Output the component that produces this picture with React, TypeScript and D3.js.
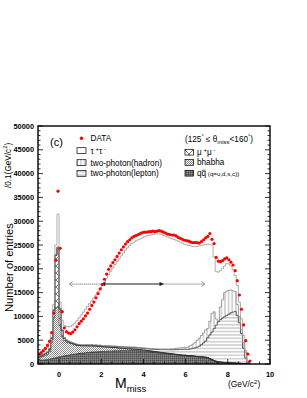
import React from 'react';
import * as d3 from 'd3';

// bins of 0.1 GeV/c^2 starting at -1.0 (one row = 1 GeV/c^2)
const binLow = -1.0;
const binWidth = 0.1;

const dataCounts = [
  2100, 2400, 2800, 3300, 3900, 4800, 6600, 10700, 21800, 36300,
  24300, 11000, 7600, 6800, 6500, 6400, 6700, 7200, 7800, 8500,
  9000, 9500, 10100, 10700, 11500, 12300, 13000, 13900, 14800, 15800,
  16700, 17800, 18900, 19900, 20600, 21300, 21900, 22600, 23300, 24000,
  24600, 25200, 25700, 26100, 26500, 26800, 27000, 27200, 27400, 27600,
  27700, 27700, 27800, 27800, 27900, 27800, 27900, 28000, 27900, 27700,
  27500, 27300, 27200, 27100, 27100, 26900, 26600, 26400, 26200, 26000,
  25900, 25800, 25600, 25500, 25500, 25500, 25400, 25700, 26100, 26500,
  26800, 27400, 26200, 25300, 22400, 21600, 21500, 21700, 22100, 22300,
  21900, 21400, 20800, 19600, 17500, 14500, 11500, 8200, 4900, 2100,
  630,
];

const qqbar = [
  700, 750, 800, 850, 900, 1000, 1100, 1200, 1300, 1400,
  1500, 1600, 1700, 1800, 1850, 1900, 2000, 2050, 2100, 2200,
  2250, 2300, 2350, 2400, 2450, 2500, 2500, 2550, 2550, 2600,
  2600, 2650, 2650, 2700, 2700, 2700, 2750, 2750, 2750, 2800,
  2800, 2800, 2800, 2800, 2800, 2800, 2800, 2750, 2750, 2700,
  2700, 2650, 2600, 2550, 2500, 2450, 2400, 2350, 2300, 2250,
  2200, 2150, 2100, 2050, 2000, 1950, 1900, 1850, 1800, 1800,
  1750, 1700, 1700, 1650, 1600, 1550, 1500, 1500, 1450, 1400,
  1300, 1100, 900, 700, 550, 450, 400, 350, 300, 300,
  250, 250, 200, 200, 150, 150, 100, 100, 50, 0,
  0,
];

const bhabha = [
  600, 700, 800, 900, 1100, 1600, 3500, 8500, 10500, 10500,
  6500, 4200, 3200, 2800, 2600, 2400, 2200, 2000, 1800, 1650,
  1550, 1500, 1450, 1400, 1350, 1300, 1250, 1200, 1150, 1100,
  1000, 950, 900, 850, 800, 750, 700, 650, 600, 550,
  500, 450, 400, 380, 350, 330, 300, 280, 260, 240,
  220, 200, 190, 180, 170, 160, 150, 140, 130, 120,
  110, 100, 100, 90, 90, 80, 80, 70, 70, 60,
  60, 50, 50, 40, 40, 30, 30, 20, 20, 20,
  20, 20, 20, 10, 10, 10, 10, 10, 10, 10,
  0, 0, 0, 0, 0, 0, 0, 0, 0, 0,
  0,
];

const mumu = [
  200, 250, 300, 350, 400, 500, 800, 1500, 11000, 12500,
  3500, 1200, 500, 300, 200, 150, 100, 100, 80, 80,
  60, 60, 50, 50, 40, 40, 30, 30, 20, 20,
  0, 0, 0, 0, 0, 0, 0, 0, 0, 0,
  0, 0, 0, 0, 0, 0, 0, 0, 0, 0,
  0, 0, 0, 0, 0, 0, 0, 0, 0, 0,
  0, 0, 0, 0, 0, 0, 0, 0, 0, 0,
  0, 0, 0, 0, 0, 0, 0, 0, 0, 0,
  0, 0, 0, 0, 0, 0, 0, 0, 0, 0,
  0, 0, 0, 0, 0, 0, 0, 0, 0, 0,
  0,
];

const ggLepton = [
  100, 100, 100, 100, 100, 100, 100, 100, 100, 100,
  100, 100, 100, 100, 100, 100, 100, 100, 100, 100,
  100, 100, 120, 120, 120, 140, 140, 160, 160, 180,
  180, 200, 200, 220, 220, 240, 240, 260, 260, 280,
  280, 290, 300, 310, 320, 330, 340, 340, 350, 350,
  350, 370, 390, 410, 440, 470, 500, 540, 590, 640,
  700, 750, 800, 850, 900, 1000, 1050, 1150, 1200, 1250,
  1250, 1350, 1450, 1600, 1750, 1950, 2200, 2550, 2950, 3400,
  4200, 5000, 5800, 6700, 7600, 8400, 8900, 9300, 9600, 9900,
  10200, 10500, 10700, 10800, 10000, 8500, 6300, 3200, 1200, 200,
  0,
];

const ggHadron = [
  80, 80, 80, 80, 80, 80, 80, 80, 80, 80,
  80, 80, 80, 80, 80, 80, 80, 80, 80, 80,
  80, 80, 80, 80, 80, 80, 80, 80, 80, 80,
  80, 80, 80, 80, 80, 80, 80, 80, 80, 80,
  100, 100, 100, 100, 100, 100, 100, 100, 100, 100,
  100, 100, 110, 110, 120, 120, 130, 130, 140, 140,
  150, 160, 180, 200, 230, 260, 300, 340, 370, 390,
  400, 550, 700, 900, 1150, 1450, 1700, 1900, 2100, 2300,
  1940, 2850, 3850, 3560, 1310, 200, 2670, 3830, 5080, 5080,
  5050, 4800, 4500, 4200, 2350, 1350, 800, 1200, 1250, 300,
  0,
];

const tautau = [
  120, 220, 420, 620, 920, 1220, 920, 1120, 2020, 6920,
  1320, 2020, 2520, 2820, 2970, 3270, 3720, 4270, 4940, 5590,
  6260, 6860, 7450, 8050, 8660, 9240, 9900, 10480, 11240, 11820,
  12540, 13320, 14170, 14950, 15700, 16430, 17130, 17760, 18410, 18990,
  19620, 20260, 20800, 21310, 21730, 22040, 22360, 22630, 22840, 23110,
  23330, 23580, 23710, 23850, 23970, 24100, 24120, 24140, 24040, 23850,
  23740, 23540, 23320, 23110, 22980, 22710, 22470, 22190, 21960, 21700,
  21540, 21250, 20900, 20510, 20110, 19720, 19370, 18930, 18480, 17980,
  17740, 16130, 14430, 11530, 9930, 10240, 7620, 6610, 5610, 5810,
  5500, 5050, 4400, 3400, 4000, 3000, 2300, 1500, 300, 0,
  0,
];

// the arrow (in GeV/c^2 and entries)
const arrowSolid = [2.0, 4.95];
const arrowDottedLeft = 0.5;
const arrowDottedRight = 6.9;
const arrowLevel = 16800;

const yTicks = [0, 5000, 10000, 15000, 20000, 25000, 30000, 35000, 40000, 45000, 50000];
const xTicks = [0, 2, 4, 6, 8, 10];

const W = 307;
const H = 398;
const m = { left: 38, right: 270, top: 126, bottom: 364 };

const x = d3.scaleLinear().domain([-1, 10]).range([m.left, m.right]);
const y = d3.scaleLinear().domain([0, 50000]).range([m.bottom, m.top]);

const font = '"Liberation Sans", Arial, Helvetica, sans-serif';

const layers = [
  { key: 'qq', values: qqbar, fill: 'url(#pQQ)', stroke: '#222' },
  { key: 'bhabha', values: bhabha, fill: 'url(#pBha)', stroke: '#555' },
  { key: 'mumu', values: mumu, fill: 'url(#pMuMu)', stroke: '#222' },
  { key: 'lep', values: ggLepton, fill: 'url(#pHor)', stroke: '#333' },
  { key: 'had', values: ggHadron, fill: 'url(#pVer)', stroke: '#888' },
  { key: 'tau', values: tautau, fill: '#fff', stroke: '#999' },
];

const edge = (i: number) => binLow + i * binWidth;

const App: React.FC = () => {
  const n = dataCounts.length;
  let lower = new Array(n).fill(0);
  const bands = layers.map((l) => {
    const upper = lower.map((v: number, i: number) => v + l.values[i]);
    const pts = upper.map((u: number, i: number) => ({ e: edge(i), lo: lower[i], hi: u }));
    pts.push({ e: edge(n), lo: lower[n - 1], hi: upper[n - 1] });
    const area = d3.area<any>()
      .x((d) => x(d.e))
      .y0((d) => y(d.lo))
      .y1((d) => y(d.hi))
      .curve(d3.curveStepAfter)(pts);
    const linePts = pts.map((p) => [p.e, p.hi] as [number, number]);
    linePts.push([edge(n), 0]);
    const line = d3.line<[number, number]>()
      .x((d) => x(d[0]))
      .y((d) => y(d[1]))
      .curve(d3.curveStepAfter)(linePts);
    lower = upper;
    return { ...l, area, line };
  });

  const yMinor = d3.range(0, 50001, 1000);
  const xMinor = d3.range(-1, 10.001, 0.5);
  const tickFont = { fontFamily: font, fontSize: 7.4, fontWeight: 700 } as const;
  const legFont = { fontFamily: font, fontSize: 8.2 } as const;
  const ay = y(arrowLevel);

  return (
    <svg width={W} height={H} style={{ position: 'absolute', left: 0, top: 0, background: '#fff' }}>
      <defs>
        <clipPath id="plot">
          <rect x={m.left} y={m.top} width={m.right - m.left} height={m.bottom - m.top} />
        </clipPath>
        <pattern id="pQQ" width={2} height={2} patternUnits="userSpaceOnUse">
          <rect width={2} height={2} fill="#6e6e6e" />
          <rect width={1} height={1} fill="#4a4a4a" />
          <rect x={1} y={1} width={1} height={1} fill="#8a8a8a" />
        </pattern>
        <pattern id="pBha" width={2} height={2} patternUnits="userSpaceOnUse">
          <rect width={2} height={2} fill="#fff" />
          <rect width={1} height={1} fill="#8c8c8c" />
          <rect x={1} y={1} width={1} height={1} fill="#8c8c8c" />
        </pattern>
        <pattern id="pMuMu" width={7} height={7} patternUnits="userSpaceOnUse">
          <rect width={7} height={7} fill="#fff" />
          <path d="M0,0 L7,7 M7,0 L0,7" stroke="#444" strokeWidth={0.7} />
        </pattern>
        <pattern id="pHor" width={4} height={3.4} patternUnits="userSpaceOnUse">
          <rect width={4} height={3.4} fill="#fff" />
          <line x1={0} x2={4} y1={1.7} y2={1.7} stroke="#888" strokeWidth={0.7} />
        </pattern>
        <pattern id="pVer" width={3.6} height={4} patternUnits="userSpaceOnUse">
          <rect width={3.6} height={4} fill="#fff" />
          <line x1={1.8} x2={1.8} y1={0} y2={4} stroke="#888" strokeWidth={0.7} />
        </pattern>
      </defs>

      <g clipPath="url(#plot)">
        {bands.map((b) => (
          <path key={b.key} d={b.area || ''} fill={b.fill} stroke="none" />
        ))}
        {bands.map((b) => (
          <path key={b.key + 'l'} d={b.line || ''} fill="none" stroke={b.stroke} strokeWidth={0.8} />
        ))}

        {/* arrow */}
        <line x1={x(arrowDottedLeft)} x2={x(arrowSolid[0])} y1={ay} y2={ay}
          stroke="#777" strokeWidth={1.3} strokeDasharray="1,1" />
        <line x1={x(arrowSolid[1])} x2={x(arrowDottedRight)} y1={ay} y2={ay}
          stroke="#777" strokeWidth={1.3} strokeDasharray="1,1" />
        <path d={`M${x(arrowDottedLeft) + 3},${ay - 2.5} L${x(arrowDottedLeft)},${ay} L${x(arrowDottedLeft) + 3},${ay + 2.5}`}
          fill="none" stroke="#777" strokeWidth={0.8} />
        <path d={`M${x(arrowDottedRight) - 3},${ay - 2.5} L${x(arrowDottedRight)},${ay} L${x(arrowDottedRight) - 3},${ay + 2.5}`}
          fill="none" stroke="#777" strokeWidth={0.8} />
        <line x1={x(arrowSolid[0])} x2={x(arrowSolid[1])} y1={ay} y2={ay} stroke="#666" strokeWidth={1.6} />
        <path d={`M${x(arrowSolid[0])},${ay} l4,-2.2 l0,4.4 Z`} fill="#222" />
        <path d={`M${x(arrowSolid[1])},${ay} l-4,-2.2 l0,4.4 Z`} fill="#222" />

        {dataCounts.map((v, i) => v > 0 ? (
          <circle key={i} cx={x(edge(i) + binWidth / 2)} cy={y(v)} r={1.6} fill="#f00" />
        ) : null)}
      </g>

      {/* frame and ticks */}
      <rect x={m.left} y={m.top} width={m.right - m.left} height={m.bottom - m.top}
        fill="none" stroke="#000" strokeWidth={1.4} />
      {yMinor.map((t) => {
        const major = t % 5000 === 0;
        const len = major ? 5 : 2.5;
        return (
          <g key={t}>
            <line x1={m.left} x2={m.left + len} y1={y(t)} y2={y(t)} stroke="#000" strokeWidth={0.8} />
            <line x1={m.right} x2={m.right - len} y1={y(t)} y2={y(t)} stroke="#000" strokeWidth={0.8} />
          </g>
        );
      })}
      {xMinor.map((t) => {
        const major = Math.abs(t / 2 - Math.round(t / 2)) < 1e-6;
        const len = major ? 5 : 2.5;
        return <line key={t} x1={x(t)} x2={x(t)} y1={m.bottom} y2={m.bottom - len} stroke="#000" strokeWidth={0.8} />;
      })}
      {yTicks.map((t) => (
        <text key={t} x={34} y={y(t) + 2.6} textAnchor="end" {...tickFont}>{t}</text>
      ))}
      {xTicks.map((t) => (
        <text key={t} x={x(t)} y={377} textAnchor="middle" {...tickFont}>{t}</text>
      ))}

      {/* axis titles */}
      <text transform="translate(13,312) rotate(-90)" fontFamily={font} fontSize={11.2}>
        Number of entries
      </text>
      <text transform="translate(10.5,188) rotate(-90)" fontFamily={font} fontSize={8.2}>
        /0.1(GeV/c<tspan fontSize={6} dy={-3.5}>2</tspan><tspan dy={3.5}>)</tspan>
      </text>
      <text x={115} y={388} fontFamily={font} fontSize={14}>
        M<tspan fontSize={9.5} dy={3.5}>miss</tspan>
      </text>
      <text x={228} y={387} fontFamily={font} fontSize={8.4}>
        (GeV/c<tspan fontSize={6} dy={-3.5}>2</tspan><tspan dy={3.5}>)</tspan>
      </text>

      {/* legend left */}
      <text x={50} y={146} fontFamily={font} fontSize={11}>(c)</text>
      <circle cx={81.5} cy={138.3} r={1.8} fill="#f00" />
      <text x={90.5} y={141.2} {...legFont}>DATA</text>
      <rect x={77} y={147.7} width={9} height={5.8} fill="#fff" stroke="#000" strokeWidth={0.7} />
      <text x={90.5} y={153.6} {...legFont}>
        τ<tspan fontSize={6} dy={-3}> +</tspan><tspan dy={3}>τ</tspan><tspan fontSize={6} dy={-3}> -</tspan>
      </text>
      <rect x={77} y={159.7} width={9} height={5.8} fill="url(#pVer)" stroke="#000" strokeWidth={0.7} />
      <text x={90.5} y={165.5} {...legFont}>two-photon(hadron)</text>
      <rect x={77} y={170.5} width={9} height={5.8} fill="url(#pHor)" stroke="#000" strokeWidth={0.7} />
      <text x={90.5} y={176.3} {...legFont}>two-photon(lepton)</text>

      {/* legend right */}
      <text x={185} y={141.7} {...legFont}>
        (125<tspan fontSize={5.5} dy={-3.5}>°</tspan><tspan dy={3.5}> ≤ θ</tspan>
        <tspan fontSize={6} dy={2}>miss</tspan><tspan dy={-2}>&lt;160</tspan>
        <tspan fontSize={5.5} dy={-3.5}>°</tspan><tspan dy={3.5}>)</tspan>
      </text>
      <rect x={185} y={149.3} width={8.5} height={5.8} fill="url(#pMuMu)" stroke="#000" strokeWidth={0.7} />
      <text x={197} y={155.2} {...legFont}>
        μ<tspan fontSize={6} dy={-3}> +</tspan><tspan dy={3}>μ</tspan><tspan fontSize={6} dy={-3}> -</tspan>
      </text>
      <rect x={185} y={159.5} width={8.5} height={5.8} fill="url(#pBha)" stroke="#000" strokeWidth={0.7} />
      <text x={197} y={165.4} {...legFont}>bhabha</text>
      <rect x={185} y={170.3} width={8.5} height={5.8} fill="url(#pQQ)" stroke="#000" strokeWidth={0.7} />
      <text x={197} y={176.2} {...legFont}>
        qq<tspan fontSize={6.2}> (q=u,d,s,c))</tspan>
      </text>
      <line x1={201.8} x2={205.6} y1={170.2} y2={170.2} stroke="#000" strokeWidth={0.6} />
    </svg>
  );
};

export default App;
